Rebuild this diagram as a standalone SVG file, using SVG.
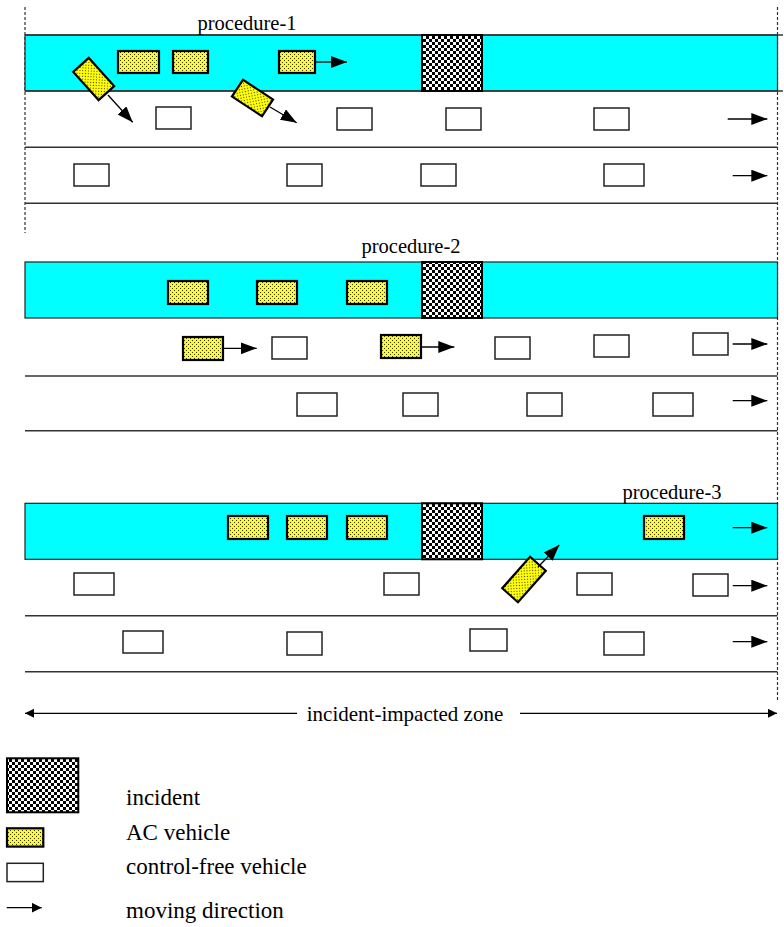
<svg xmlns="http://www.w3.org/2000/svg" width="784" height="927" viewBox="0 0 784 927">
  <style>
    .band { fill: #00ffff; stroke: #222; stroke-width: 1.2; }
    .lane { stroke: #333; stroke-width: 1.5; fill: none; }
    .ac { fill: url(#dots); stroke: #000; stroke-width: 2.2; }
    .cf { fill: #fff; stroke: #222; stroke-width: 1.5; }
    .inc { fill: url(#checker); stroke: #000; stroke-width: 2; }
    .dir { stroke: #000; stroke-width: 1.3; fill: none; marker-end: url(#head); }
    .dash { stroke: #333; stroke-width: 1.2; stroke-dasharray: 3 2; fill: none; }
  </style>
  <defs>
    <pattern id="dots" width="4" height="4" patternUnits="userSpaceOnUse">
      <rect width="4" height="4" fill="#ffff00"/>
      <rect x="0" y="0" width="1" height="1" fill="#333"/>
      <rect x="2" y="2" width="1" height="1" fill="#333"/>
    </pattern>
    <pattern id="checker" width="6" height="6" patternUnits="userSpaceOnUse">
      <rect width="6" height="6" fill="#fff"/>
      <rect x="0" y="0" width="3" height="3" fill="#000"/>
      <rect x="3" y="3" width="3" height="3" fill="#000"/>
    </pattern>
    <marker id="head" markerUnits="userSpaceOnUse" markerWidth="17" markerHeight="12" refX="16" refY="6" orient="auto">
      <path d="M0,0 L16,6 L0,12 z" fill="#000"/>
    </marker>
    <marker id="head-s" markerUnits="userSpaceOnUse" markerWidth="11" markerHeight="11" refX="10" refY="5" orient="auto">
      <path d="M0,0 L10,5 L0,10 z" fill="#000"/>
    </marker>
    <marker id="head-z" markerUnits="userSpaceOnUse" markerWidth="10" markerHeight="10" refX="9" refY="4.5" orient="auto-start-reverse">
      <path d="M0,0 L9,4.5 L0,9 z" fill="#000"/>
    </marker>
  </defs>

  <rect width="784" height="927" fill="#fff"/>

  <!-- zone boundaries -->
  <g id="boundaries">
    <line class="dash" x1="25" y1="7" x2="25" y2="233"/>
    <line class="dash" x1="777.5" y1="7" x2="777.5" y2="702"/>
  </g>

  <!-- road, procedure 1 -->
  <g id="road-1">
    <rect class="band" x="25" y="35" width="752.5" height="56"/>
    <line class="lane" x1="25" y1="35" x2="783" y2="35"/>
    <line class="lane" x1="25" y1="91" x2="783" y2="91"/>
    <line class="lane" x1="25" y1="147.3" x2="777.5" y2="147.3"/>
    <line class="lane" x1="25" y1="203.3" x2="777.5" y2="203.3"/>
    <text x="197.5" y="30" style="font-family:'Liberation Serif',serif;font-size:20.5px">procedure-1</text>
  </g>
  <g id="incident-1"><rect class="inc" x="422" y="35" width="60" height="56"/></g>

  <!-- road, procedure 2 -->
  <g id="road-2">
    <rect class="band" x="25" y="262" width="752.5" height="56"/>
    <line class="lane" x1="25" y1="376" x2="777.5" y2="376"/>
    <line class="lane" x1="25" y1="430.7" x2="777.5" y2="430.7"/>
    <text x="361.5" y="253" style="font-family:'Liberation Serif',serif;font-size:20.5px">procedure-2</text>
  </g>
  <g id="incident-2"><rect class="inc" x="422" y="262" width="60" height="56"/></g>

  <!-- road, procedure 3 -->
  <g id="road-3">
    <rect class="band" x="25" y="503.3" width="752.5" height="56"/>
    <line class="lane" x1="25" y1="615.7" x2="777.5" y2="615.7"/>
    <line class="lane" x1="25" y1="671.7" x2="777.5" y2="671.7"/>
    <text x="622.5" y="499" style="font-family:'Liberation Serif',serif;font-size:20.5px">procedure-3</text>
  </g>
  <g id="incident-3"><rect class="inc" x="422" y="503.3" width="60" height="56"/></g>

  <!-- AC vehicles -->
  <g id="ac-vehicles">
    <rect class="ac" x="118" y="51" width="41" height="22"/>
    <rect class="ac" x="173" y="51" width="35" height="22"/>
    <rect class="ac" x="279" y="51" width="36" height="22"/>
    <rect class="ac" x="-19" y="-10.5" width="38" height="21" transform="translate(93.7,79) rotate(48)"/>
    <rect class="ac" x="-18" y="-10" width="36" height="20" transform="translate(252.5,98) rotate(33.4)"/>

    <rect class="ac" x="168" y="281" width="40" height="23"/>
    <rect class="ac" x="257" y="281" width="40" height="23"/>
    <rect class="ac" x="347" y="281" width="40" height="23"/>
    <rect class="ac" x="183" y="337" width="40" height="23"/>
    <rect class="ac" x="381" y="335" width="40" height="23"/>

    <rect class="ac" x="228" y="516" width="40" height="23"/>
    <rect class="ac" x="287" y="516" width="40" height="23"/>
    <rect class="ac" x="347" y="516" width="40" height="23"/>
    <rect class="ac" x="644" y="516" width="40" height="23"/>
    <rect class="ac" x="-21" y="-10.5" width="42" height="21" transform="translate(524,579.5) rotate(-48.5)"/>
  </g>

  <!-- control-free vehicles -->
  <g id="cf-vehicles">
    <rect class="cf" x="156" y="107" width="35" height="22"/>
    <rect class="cf" x="337" y="108" width="35" height="22"/>
    <rect class="cf" x="446" y="108" width="35" height="22"/>
    <rect class="cf" x="594" y="108" width="35" height="22"/>
    <rect class="cf" x="74" y="164" width="35" height="22"/>
    <rect class="cf" x="287" y="164" width="35" height="22"/>
    <rect class="cf" x="421" y="164" width="35" height="22"/>
    <rect class="cf" x="604" y="164" width="40" height="22"/>

    <rect class="cf" x="272" y="337" width="35" height="22"/>
    <rect class="cf" x="495" y="337" width="35" height="22"/>
    <rect class="cf" x="594" y="335" width="35" height="22"/>
    <rect class="cf" x="693" y="333" width="35" height="22"/>
    <rect class="cf" x="297" y="393" width="40" height="23"/>
    <rect class="cf" x="403" y="393" width="35" height="23"/>
    <rect class="cf" x="527" y="393" width="35" height="23"/>
    <rect class="cf" x="653" y="393" width="40" height="23"/>

    <rect class="cf" x="74" y="573" width="40" height="22"/>
    <rect class="cf" x="384" y="573" width="35" height="22"/>
    <rect class="cf" x="577" y="573" width="35" height="22"/>
    <rect class="cf" x="693" y="574" width="35" height="22"/>
    <rect class="cf" x="123" y="631" width="40" height="22"/>
    <rect class="cf" x="287" y="632" width="35" height="23"/>
    <rect class="cf" x="470" y="629" width="37" height="22"/>
    <rect class="cf" x="604" y="632" width="40" height="23"/>
  </g>

  <!-- moving-direction arrows -->
  <g id="connectors">
    <line class="dir" x1="315" y1="62" x2="347" y2="62"/>
    <line class="dir" x1="108" y1="95" x2="132.7" y2="122.3"/>
    <line class="dir" x1="270" y1="107" x2="296.7" y2="122.7"/>
    <line class="dir" x1="727.7" y1="119" x2="767.3" y2="119"/>
    <line class="dir" x1="732.7" y1="175.7" x2="767.3" y2="175.7"/>

    <line class="dir" x1="223" y1="348.3" x2="256.7" y2="348.3"/>
    <line class="dir" x1="421" y1="347" x2="454.3" y2="347"/>
    <line class="dir" x1="732.7" y1="344" x2="767.3" y2="344"/>
    <line class="dir" x1="732.7" y1="400.7" x2="767.3" y2="400.7"/>

    <line class="dir" x1="538" y1="567" x2="559.3" y2="545"/>
    <line class="dir" x1="732.7" y1="527.7" x2="767.3" y2="527.7"/>
    <line class="dir" x1="732.7" y1="585.7" x2="767.3" y2="585.7"/>
    <line class="dir" x1="732.7" y1="641.7" x2="767.3" y2="641.7"/>

    <line x1="25" y1="713.3" x2="297" y2="713.3" stroke="#000" stroke-width="1.3" marker-start="url(#head-z)"/>
    <line x1="520" y1="713.3" x2="777" y2="713.3" stroke="#000" stroke-width="1.3" marker-end="url(#head-z)"/>
  </g>
  <g id="zone-label">
    <text x="405" y="720.5" text-anchor="middle" style="font-family:'Liberation Serif',serif;font-size:21px">incident-impacted zone</text>
  </g>

  <!-- legend -->
  <g id="legend">
    <rect class="inc" x="7" y="758.3" width="71.3" height="54" stroke-width="1.5" stroke="#222"/>
    <rect class="ac" x="7" y="828.3" width="36.3" height="18.3"/>
    <rect class="cf" x="7" y="863.3" width="36.3" height="18.3"/>
    <line x1="6.7" y1="907.7" x2="41.7" y2="907.7" stroke="#000" stroke-width="1.3" marker-end="url(#head-s)"/>
    <text x="126" y="805" style="font-family:'Liberation Serif',serif;font-size:23px">incident</text>
    <text x="126" y="839.5" style="font-family:'Liberation Serif',serif;font-size:23px">AC vehicle</text>
    <text x="126" y="874" style="font-family:'Liberation Serif',serif;font-size:23px">control-free vehicle</text>
    <text x="126" y="918" style="font-family:'Liberation Serif',serif;font-size:23px">moving direction</text>
  </g>
</svg>
